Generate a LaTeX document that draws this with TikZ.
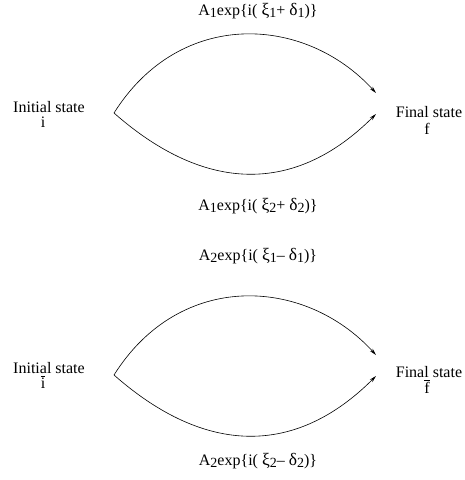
\documentclass[tikz,border=0pt]{standalone}
\usepackage{fontspec}
\setmainfont{Liberation Serif}
\usetikzlibrary{arrows.meta}
\newcommand\sbs[1]{\raisebox{-0.4ex}{\fontsize{14}{14}\selectfont #1}}
\newcommand\gk[1]{{\fontsize{17.5}{17.5}\selectfont #1}}
\newcommand\barred[1]{$\overline{\hbox{#1}}$}
\begin{document}
\begin{tikzpicture}[x=1pt,y=-1pt,
  txt/.style={anchor=base,inner sep=0pt,font=\fontsize{16}{19}\selectfont},
  arc/.style={line width=0.6pt,-{Stealth[length=7pt,width=3.6pt]}}]
\useasboundingbox (0,0) rectangle (465,480);
% upper diagram
\node[txt] (lab1) at (258,15) {A\sbs{1}exp\{i( \gk{ξ}\sbs{1}+ \gk{δ}\sbs{1})\}};
\node[txt] (lab2) at (258,210) {A\sbs{1}exp\{i( \gk{ξ}\sbs{2}+ \gk{δ}\sbs{2})\}};
\node[txt] (ini1) at (49,112) {Initial state};
\node[txt] (inis1) at (43,127) {i};
\node[txt] (fin1) at (429,117) {Final state};
\node[txt] (fins1) at (427,134) {f};
\coordinate (s1) at (114,113);
\coordinate (t1) at (376,93);
\coordinate (b1) at (376,114);
\draw[arc] (s1) .. controls (180,8) and (305,15) .. (t1);
\draw[arc] (s1) .. controls (206,194) and (296,194) .. (b1);
% lower diagram
\node[txt] (lab3) at (258,260) {A\sbs{2}exp\{i( \gk{ξ}\sbs{1}– \gk{δ}\sbs{1})\}};
\node[txt] (lab4) at (258,465) {A\sbs{2}exp\{i( \gk{ξ}\sbs{2}– \gk{δ}\sbs{2})\}};
\node[txt] (ini2) at (49,373) {Initial state};
\node[txt] (inis2) at (43,388) {\barred{i}};
\node[txt] (fin2) at (429,377) {Final state};
\node[txt] (fins2) at (427,393) {\barred{f}};
\coordinate (s2) at (114,375);
\coordinate (t2) at (376,355);
\coordinate (b2) at (376,376);
\draw[arc] (s2) .. controls (180,270) and (305,277) .. (t2);
\draw[arc] (s2) .. controls (206,456) and (296,456) .. (b2);
\end{tikzpicture}
\end{document}
